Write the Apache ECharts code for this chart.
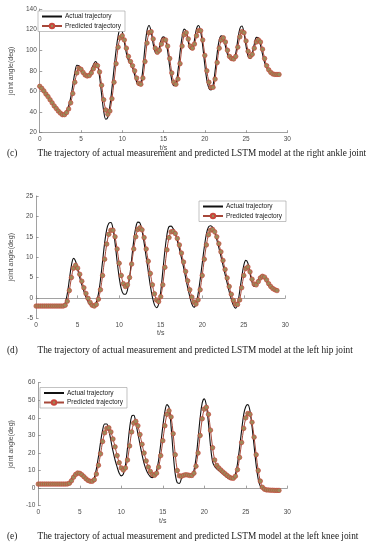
<!DOCTYPE html>
<html>
<head>
<meta charset="utf-8">
<script src="https://cdn.jsdelivr.net/npm/echarts@6/dist/echarts.min.js"></script>
<style>
html,body{margin:0;padding:0;background:#fff;}
#chart{width:381px;height:550px;}
</style>
</head>
<body>
<div id="chart"></div>
<script>
// time samples (s)
const timeS = [0,0.25,0.5,0.75,1,1.25,1.5,1.75,2,2.25,2.5,2.75,3,3.25,3.5,3.75,4,4.25,4.5,4.75,5,5.25,5.5,5.75,6,6.25,6.5,6.75,7,7.25,7.5,7.75,8,8.25,8.5,8.75,9,9.25,9.5,9.75,10,10.25,10.5,10.75,11,11.25,11.5,11.75,12,12.25,12.5,12.75,13,13.25,13.5,13.75,14,14.25,14.5,14.75,15,15.25,15.5,15.75,16,16.25,16.5,16.75,17,17.25,17.5,17.75,18,18.25,18.5,18.75,19,19.25,19.5,19.75,20,20.25,20.5,20.75,21,21.25,21.5,21.75,22,22.25,22.5,22.75,23,23.25,23.5,23.75,24,24.25,24.5,24.75,25,25.25,25.5,25.75,26,26.25,26.5,26.75,27,27.25,27.5,27.75,28,28.25,28.5,28.75,29];

// (c) right ankle
const ankleActual = [
65,62.5,60,57.5, 54.5,51.5,48.5,45.5, 43,40.5,38.5,37.3, 38,41,46,54,
66,78,85.5,85, 80,77,75.5,75.5, 77,81,86,89, 86,74,57,41,
33,35,46,63, 82,100,114,120.5, 118,108,97,90, 87,83,76,69,
66,68,82,103, 119,124,118,106, 98,97,103,111, 113,110,99,84,
71,65.5,67,80, 98,113,120.5,118, 108,101,101,110, 121,124,118,104,
86,71,63,61.5, 66,80,97,110, 114,112,104,96, 92,90.5,91,97,
110,121,123.5,117, 104,94,92,97, 106,112.5,112,105, 96,88,83,80,
78,77,76.5,76.5, 76.5];
const anklePred = [
65,63,60.5,57.5, 55,52,49,46, 43.5,41,39,37.5, 37.5,39.5,43,49,
58,69,78,82.5, 81.5,78.5,76,75, 75.5,78,82,85.5, 85,79,66,52,
42,38,41,53, 69,87,103,112, 114,110,102,94, 89,85,80,73,
68,67,73,89, 107,117,118,111, 102,98,100,106, 110,110,104,92,
78,69,67,72, 87,104,115,117, 111,104,102,106, 114,119,119,110,
95,80,69,64, 64,72,88,102, 110,112,108,100, 94,92,91.5,94,
103,113,118,117, 109,99,94,96, 102,108,110,108, 101,92,85,81,
78.5,77,76.5,76.5, 76.5];

// (d) left hip
const hipActual = [
-2,-2,-2,-2, -2,-2,-2,-2, -2,-2,-2,-2, -2,-1.9,-1.2,1,
4.5,8,9.7,9, 7,5,3.2,1.6, 0.2,-0.9,-1.7,-2, -1.9,-1,1,4.5,
9,13.5,16.8,18.3, 18.5,17,13.5,9, 5,2.2,1,0.9, 2,5,9.5,14,
17.3,18.6,18.4,16.5, 13.5,10,6.5,3, 0.2,-1.7,-2.4,-1.5, 1.5,6.5,11.5,15.5,
17.5,17.6,17,15.8, 14,12,9.8,7.5, 5,2.5,0.3,-1.5, -2.3,-1.5,1,4.5,
8.5,12.5,15.7,17.4, 17.7,17.3,16,14.3, 12.3,10.2,8,5.8, 3.6,1.5,-0.3,-1.8,
-2.5,-1.5,1.5,5, 8,9.2,8.5,6, 3.8,2.8,3.3,4.5, 5.4,5.6,5,4,
3,2.4,2.1,1.9, 1.8];
const hipPred = [
-2,-2,-2,-2, -2,-2,-2,-2, -2,-2,-2,-2, -2,-2,-1.8,-0.8,
1.8,5,7.3,8, 7.3,5.8,4.1,2.5, 1.1,-0.1,-1.1,-1.8, -2,-1.6,-0.3,2,
5.5,9.5,13.2,15.6, 16.6,16.6,15,12, 8.5,5.5,3.5,2.8, 3.2,5,8.3,12,
15,16.8,17.2,16.7, 14.8,12,9,6, 3.2,1,-0.5,-0.9, 0.3,3.2,7.5,11.8,
14.8,16.2,16.3,15.8, 14.6,13,11,8.8, 6.5,4.2,2,0.2, -1,-1.5,-0.5,2,
5.5,9.5,13,15.5, 16.6,16.8,16.2,15, 13.3,11.3,9.2,7, 4.9,2.8,0.9,-0.6,
-1.5,-1.6,-0.5,2.5, 5.5,7.2,7.6,6.4, 4.6,3.4,3.2,4, 4.9,5.3,5.1,4.4,
3.5,2.8,2.3,2, 1.8];

// (e) left knee
const kneeActual = [
2.5,2.5,2.5,2.5, 2.5,2.5,2.5,2.5, 2.5,2.5,2.5,2.5, 2.5,2.5,2.6,3.5,
5.5,7.3,8.3,8.5, 8,7,5.7,4.5, 3.8,3.5,4,6, 11,18,26,33,
36.5,36.5,33,27, 21,16,12,8.5, 7,8,13,23, 34,41,41.5,37,
31,25,19,14, 10.5,8,6.5,6, 7,10,16,25, 35,43.5,47.5,46,
35,20,8,3, 2.7,5.5,7.5,7.7, 7.5,7,7.5,10, 17,28,40,48.5,
50.8,47,37,24, 15,12.3,11,10, 9,8,7,6, 5.3,5,5.5,8,
14,23,33,42, 46.5,47.5,44,35, 24,13,5,1, -0.5,-1,-1,-1.1,
-1.2,-1.2,-1.3,-1.3, -1.3];
const kneePred = [
2.3,2.3,2.3,2.3, 2.3,2.3,2.3,2.3, 2.3,2.3,2.3,2.3, 2.3,2.3,2.4,2.8,
4.2,6.2,7.8,8.6, 8.4,7.6,6.5,5.3, 4.4,3.9,3.9,4.8, 8,13,19.5,26.5,
31.5,34,34.3,32, 28,23.5,18.5,14.5, 11.5,10.3,11.5,16, 24,32,37,38,
35.5,30.5,25,20, 15.5,12,9.5,7.8, 7.3,8.5,12,18.5, 27,35.5,42,44,
40.5,31,19,10, 7,6.8,7.3,7.6, 7.5,7.2,7.2,8.5, 12.5,20,30,39.5,
45,46,42,33, 23,16,13,11.5, 10.3,9.2,8.2,7.2, 6.3,5.7,5.6,6.8,
10.5,17.5,26,34, 40,42.5,42,37.5, 29,19,10,4, 0.5,-0.6,-1,-1.1,
-1.2,-1.2,-1.3,-1.3, -1.3];

const xTicks = [0, 30, 5];
const yAxesSpec = [[20, 140, 20], [-5, 25, 5], [-10, 60, 10]];
const seriesNames = ['Actual trajectory', 'Predicted trajectory'];
const captions = [
  ['(c)', 'The trajectory of actual measurement and predicted LSTM model at the right ankle joint'],
  ['(d)', 'The trajectory of actual measurement and predicted LSTM model at the left hip joint'],
  ['(e)', 'The trajectory of actual measurement and predicted LSTM model at the left knee joint']
];

const pairs = (ys) => ys.map((v, i) => [timeS[i], v]);

const grids = [
  {left: 34.7, top: 9, width: 252.6, height: 123.7},
  {left: 32, top: 196, width: 253.3, height: 122.3},
  {left: 34.3, top: 382.7, width: 253, height: 123}
];
const legendPos = [{left: 38, top: 11}, {left: 199, top: 201}, {left: 40, top: 387.5}];
const captionY = [155, 351.7, 537.7];
const dataSets = [[ankleActual, anklePred], [hipActual, hipPred], [kneeActual, kneePred]];

const axisColor = '#7a7a7a';
const labelColor = '#4a4a4a';
const sans = 'Liberation Sans, Arial, sans-serif';
const serif = 'Liberation Serif, Times New Roman, serif';

const option = {
  animation: false,
  backgroundColor: '#fff',
  grid: grids.map(g => Object.assign({containLabel: false}, g)),
  xAxis: grids.map((g, i) => ({
    type: 'value', gridIndex: i, min: xTicks[0], max: xTicks[1], interval: xTicks[2],
    name: 't/s', nameLocation: 'middle', nameGap: 10,
    nameTextStyle: {fontSize: 7, color: labelColor, fontFamily: sans},
    axisLine: {show: true, lineStyle: {color: axisColor, width: 0.7}},
    axisTick: {show: true, inside: true, length: 2.5, lineStyle: {color: axisColor, width: 0.7}},
    axisLabel: {fontSize: 6.5, color: labelColor, margin: 3.5, fontFamily: sans},
    splitLine: {show: false}
  })),
  yAxis: grids.map((g, i) => ({
    type: 'value', gridIndex: i, min: yAxesSpec[i][0], max: yAxesSpec[i][1], interval: yAxesSpec[i][2],
    name: 'joint angle(deg)', nameLocation: 'middle', nameGap: 12.5,
    nameTextStyle: {fontSize: 7, color: labelColor, fontFamily: sans},
    axisLine: {show: true, lineStyle: {color: axisColor, width: 0.7}},
    axisTick: {show: true, inside: true, length: 2.5, lineStyle: {color: axisColor, width: 0.7}},
    axisLabel: {fontSize: 6.5, color: labelColor, margin: 3, fontFamily: sans},
    splitLine: {show: false}
  })),
  legend: legendPos.map((p, i) => ({
    left: p.left, top: p.top, orient: 'vertical',
    data: [
      {name: seriesNames[0], itemStyle: {opacity: 0}},
      {name: seriesNames[1]}
    ],
    itemWidth: 20, itemHeight: 5.5, itemGap: 2.5,
    padding: [2, 4, 2, 3],
    borderColor: '#9a9a9a', borderWidth: 0.6, backgroundColor: '#fff',
    textStyle: {fontSize: 6.5, color: '#222', fontFamily: sans, padding: [0, 0, 0, -2]},
    selectedMode: false
  })),
  series: [],
  graphic: []
};

dataSets.forEach((ds, i) => {
  option.series.push({
    name: seriesNames[0], type: 'line', xAxisIndex: i, yAxisIndex: i,
    data: pairs(ds[0]), smooth: 0.35, showSymbol: false, symbol: 'none',
    lineStyle: {color: '#111', width: 1.1}, itemStyle: {color: '#111'}, z: 2
  });
  option.series.push({
    name: seriesNames[1], type: 'line', xAxisIndex: i, yAxisIndex: i,
    data: pairs(ds[1]), smooth: 0.35, showSymbol: true, symbol: 'circle', symbolSize: 4.5,
    lineStyle: {color: '#a6483a', width: 1},
    itemStyle: {color: '#9c8a5a', borderColor: '#c8463c', borderWidth: 0.7}, z: 3
  });
  option.graphic.push({
    type: 'text', left: 7, top: captionY[i] - 5.5,
    style: {text: captions[i][0], fontSize: 9.3, fontFamily: serif, fill: '#1a1a1a'}
  });
  option.graphic.push({
    type: 'text', left: 37.5, top: captionY[i] - 5.5,
    style: {text: captions[i][1], fontSize: 9.3, fontFamily: serif, fill: '#1a1a1a'}
  });
});

const chart = echarts.init(document.getElementById('chart'), null, {renderer: 'canvas'});
chart.setOption(option);
</script>
</body>
</html>
